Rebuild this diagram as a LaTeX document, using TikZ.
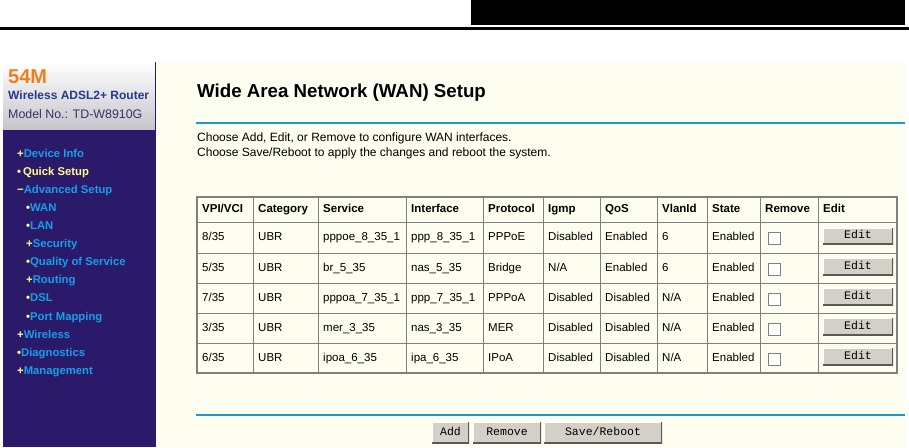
\documentclass[tikz,border=0pt]{standalone}
\usepackage{fontspec}
\setmainfont{Liberation Sans}
\newfontfamily\buttonfont{Liberation Mono}
\usepackage{tikz}

\definecolor{sidepurple}{RGB}{43,25,105}
\definecolor{hdrgray}{RGB}{196,196,202}
\definecolor{cream}{RGB}{253,253,240}
\definecolor{menucyan}{RGB}{20,160,235}
\definecolor{menuyellow}{RGB}{255,255,140}
\definecolor{orangetag}{RGB}{240,125,30}
\definecolor{routerblue}{RGB}{40,55,140}
\definecolor{modelblue}{RGB}{50,50,110}
\definecolor{ruleblue}{RGB}{25,155,210}
\definecolor{gridgray}{RGB}{128,128,128}
\definecolor{btngray}{RGB}{212,208,200}

\tikzset{
  menu/.style={anchor=west, inner sep=0, text height=8.5, text depth=2.5, text=menucyan, font=\bfseries\fontsize{11.3}{13}\selectfont},
  cell/.style={anchor=west, inner sep=0, text height=8.5, text depth=2.5, font=\fontsize{11.5}{13}\selectfont},
  head/.style={anchor=west, inner sep=0, text height=8.5, text depth=2.5, font=\bfseries\fontsize{11.5}{13}\selectfont},
  note/.style={anchor=west, inner sep=0, text height=8.5, text depth=2.5, font=\fontsize{12}{14}\selectfont},
  chkbox/.style={fill=white, draw=gridgray, inner sep=0, minimum size=12},
  btn/.style={fill=btngray, inner sep=0, text height=7.5, text depth=2, font=\buttonfont\fontsize{11.5}{13}\selectfont,
    path picture={
      \draw[white, line width=2] (path picture bounding box.south west) -- (path picture bounding box.north west) -- (path picture bounding box.north east);
      \draw[black!65, line width=3] (path picture bounding box.south west) -- (path picture bounding box.south east) -- (path picture bounding box.north east);
    }},
}

\begin{document}
\begin{tikzpicture}[x=1pt, y=-1pt]
            \useasboundingbox (0,0) rectangle (909,447);

            % Page header
            \fill[black] (471,0) rectangle (905,24.5);
            \fill[black] (0,27) rectangle (909,30);

            % Backgrounds
            \fill[cream] (156,62) rectangle (905,447);
            \shade[top color=white, bottom color=hdrgray] (3,62) rectangle (155,130);
            \fill[sidepurple] (3,130) rectangle (155,447);
            \draw[sidepurple, line width=1.2] (155.5,62) -- (155.5,447);

            % Logo
            \node[anchor=west, inner sep=0, text=orangetag, font=\bfseries\fontsize{20}{22}\selectfont] (tag) at (8,77) {54M};
            \node[anchor=west, inner sep=0, text=routerblue, font=\bfseries\fontsize{12}{14}\selectfont] (router) at (8,95.5) {Wireless ADSL2+ Router};
            \node[anchor=west, inner sep=0, text=modelblue, font=\fontsize{12.4}{14}\selectfont] (model) at (8,114) {Model No.: TD-W8910G};

            % Menu
            \node[menu] (m1) at (17,154) {{\color{menuyellow}+}Device Info};
            \node[menu] (m2) at (17,172) {{\color{menuyellow}•\,}{\color{menuyellow}Quick Setup}};
            \node[menu] (m3) at (17,190) {{\color{menuyellow}−}Advanced Setup};
            \node[menu] (m4) at (26,208) {{\color{menuyellow}•}WAN};
            \node[menu] (m5) at (26,226.5) {{\color{menuyellow}•}LAN};
            \node[menu] (m6) at (26,244.5) {{\color{menuyellow}+}Security};
            \node[menu] (m7) at (26,262.5) {{\color{menuyellow}•}Quality of Service};
            \node[menu] (m8) at (26,280.5) {{\color{menuyellow}+}Routing};
            \node[menu] (m9) at (26,298.5) {{\color{menuyellow}•}DSL};
            \node[menu] (m10) at (26,317) {{\color{menuyellow}•}Port Mapping};
            \node[menu] (m11) at (17,335) {{\color{menuyellow}+}Wireless};
            \node[menu] (m12) at (17,353) {{\color{menuyellow}•}Diagnostics};
            \node[menu] (m13) at (17,371) {{\color{menuyellow}+}Management};

            % Title and notes
            \node[anchor=base west, inner sep=0, font=\bfseries\fontsize{18.7}{21}\selectfont] (title) at (197,97) {Wide Area Network (WAN) Setup};
            \draw[ruleblue, line width=2] (196,123) -- (905,123);
            \node[note] (note1) at (197,138.5) {Choose Add, Edit, or Remove to configure WAN interfaces.};
            \node[note] (note2) at (197,153.5) {Choose Save/Reboot to apply the changes and reboot the system.};

            % Table grid
            \draw[gridgray, line width=1.2] (197,197) rectangle (897,373);
            \draw[gridgray, line width=1] (197,222) -- (897,222);
            \draw[gridgray, line width=1] (197,253) -- (897,253);
            \draw[gridgray, line width=1] (197,283) -- (897,283);
            \draw[gridgray, line width=1] (197,313) -- (897,313);
            \draw[gridgray, line width=1] (197,343) -- (897,343);
            \draw[gridgray, line width=1] (253,197) -- (253,373);
            \draw[gridgray, line width=1] (318,197) -- (318,373);
            \draw[gridgray, line width=1] (406,197) -- (406,373);
            \draw[gridgray, line width=1] (483,197) -- (483,373);
            \draw[gridgray, line width=1] (543,197) -- (543,373);
            \draw[gridgray, line width=1] (600,197) -- (600,373);
            \draw[gridgray, line width=1] (657,197) -- (657,373);
            \draw[gridgray, line width=1] (707,197) -- (707,373);
            \draw[gridgray, line width=1] (760,197) -- (760,373);
            \draw[gridgray, line width=1] (818,197) -- (818,373);

            % Header row
            \node[head] (vpi0) at (202,209.5) {VPI/VCI};
            \node[head] (cat0) at (258,209.5) {Category};
            \node[head] (srv0) at (323,209.5) {Service};
            \node[head] (if0) at (411,209.5) {Interface};
            \node[head] (prot0) at (488,209.5) {Protocol};
            \node[head] (igmp0) at (548,209.5) {Igmp};
            \node[head] (qos0) at (605,209.5) {QoS};
            \node[head] (vlan0) at (662,209.5) {VlanId};
            \node[head] (state0) at (712,209.5) {State};
            \node[head] (rm0) at (765,209.5) {Remove};
            \node[head] (edit0) at (823,209.5) {Edit};

            % Row 1
            \node[cell] (vpi1) at (202,237.5) {8/35};
            \node[cell] (cat1) at (258,237.5) {UBR};
            \node[cell] (srv1) at (323,237.5) {pppoe\_8\_35\_1};
            \node[cell] (if1) at (411,237.5) {ppp\_8\_35\_1};
            \node[cell] (prot1) at (488,237.5) {PPPoE};
            \node[cell] (igmp1) at (548,237.5) {Disabled};
            \node[cell] (qos1) at (605,237.5) {Enabled};
            \node[cell] (vlan1) at (662,237.5) {6};
            \node[cell] (state1) at (712,237.5) {Enabled};
            \node[chkbox] (rm1) at (774,238.5) {};
            \node[btn, minimum width=70, minimum height=17] (edit1) at (858,236) {Edit};

            % Row 2
            \node[cell] (vpi2) at (202,268) {5/35};
            \node[cell] (cat2) at (258,268) {UBR};
            \node[cell] (srv2) at (323,268) {br\_5\_35};
            \node[cell] (if2) at (411,268) {nas\_5\_35};
            \node[cell] (prot2) at (488,268) {Bridge};
            \node[cell] (igmp2) at (548,268) {N/A};
            \node[cell] (qos2) at (605,268) {Enabled};
            \node[cell] (vlan2) at (662,268) {6};
            \node[cell] (state2) at (712,268) {Enabled};
            \node[chkbox] (rm2) at (774,269) {};
            \node[btn, minimum width=70, minimum height=17] (edit2) at (858,266.5) {Edit};

            % Row 3
            \node[cell] (vpi3) at (202,298) {7/35};
            \node[cell] (cat3) at (258,298) {UBR};
            \node[cell] (srv3) at (323,298) {pppoa\_7\_35\_1};
            \node[cell] (if3) at (411,298) {ppp\_7\_35\_1};
            \node[cell] (prot3) at (488,298) {PPPoA};
            \node[cell] (igmp3) at (548,298) {Disabled};
            \node[cell] (qos3) at (605,298) {Disabled};
            \node[cell] (vlan3) at (662,298) {N/A};
            \node[cell] (state3) at (712,298) {Enabled};
            \node[chkbox] (rm3) at (774,299) {};
            \node[btn, minimum width=70, minimum height=17] (edit3) at (858,296.5) {Edit};

            % Row 4
            \node[cell] (vpi4) at (202,328) {3/35};
            \node[cell] (cat4) at (258,328) {UBR};
            \node[cell] (srv4) at (323,328) {mer\_3\_35};
            \node[cell] (if4) at (411,328) {nas\_3\_35};
            \node[cell] (prot4) at (488,328) {MER};
            \node[cell] (igmp4) at (548,328) {Disabled};
            \node[cell] (qos4) at (605,328) {Disabled};
            \node[cell] (vlan4) at (662,328) {N/A};
            \node[cell] (state4) at (712,328) {Enabled};
            \node[chkbox] (rm4) at (774,329) {};
            \node[btn, minimum width=70, minimum height=17] (edit4) at (858,326.5) {Edit};

            % Row 5
            \node[cell] (vpi5) at (202,358) {6/35};
            \node[cell] (cat5) at (258,358) {UBR};
            \node[cell] (srv5) at (323,358) {ipoa\_6\_35};
            \node[cell] (if5) at (411,358) {ipa\_6\_35};
            \node[cell] (prot5) at (488,358) {IPoA};
            \node[cell] (igmp5) at (548,358) {Disabled};
            \node[cell] (qos5) at (605,358) {Disabled};
            \node[cell] (vlan5) at (662,358) {N/A};
            \node[cell] (state5) at (712,358) {Enabled};
            \node[chkbox] (rm5) at (774,359) {};
            \node[btn, minimum width=70, minimum height=17] (edit5) at (858,356.5) {Edit};

            % Bottom buttons
            \draw[ruleblue, line width=2] (196,415) -- (905,415);
            \node[btn, minimum width=37, minimum height=21] (add) at (450.5,432.5) {Add};
            \node[btn, minimum width=68, minimum height=21] (remove) at (507,432.5) {Remove};
            \node[btn, minimum width=118, minimum height=21] (save) at (603,432.5) {Save/Reboot};

        \end{tikzpicture}
\end{document}
